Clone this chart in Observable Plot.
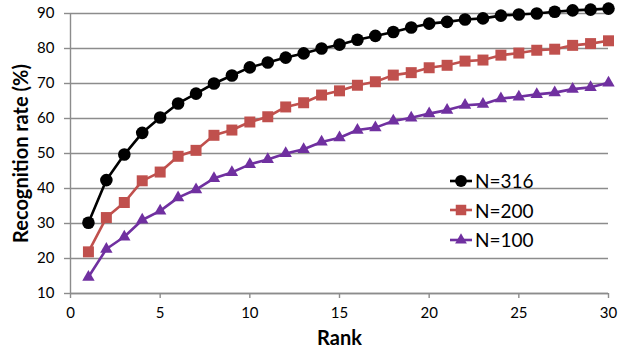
<!DOCTYPE html>
<html>
<head>
<meta charset="utf-8">
<script src="https://cdn.jsdelivr.net/npm/d3@7"></script>
<script src="https://cdn.jsdelivr.net/npm/@observablehq/plot@0.6"></script>
<style>
  html, body { margin: 0; padding: 0; background: #fff; }
  #wrap { position: relative; width: 619px; height: 352px; font-family: Lato, "Open Sans", sans-serif; }
  #legend { position: absolute; left: 449px; top: 166px; font-size: 19px; line-height: 29.5px; color: #000; }
  #legend div { display: flex; align-items: center; height: 29.5px; }
  #legend svg { margin-right: 2px; }
</style>
</head>
<body>
<div id="wrap"></div>
<script>
const ranks = [1,2,3,4,5,6,7,8,9,10,11,12,13,14,15,16,17,18,19,20,21,22,23,24,25,26,27,28,29,30];
const n316 = [30.2,42.4,49.7,55.9,60.3,64.3,67.1,70.0,72.3,74.6,76.0,77.4,78.6,80.0,81.1,82.5,83.6,84.7,86.0,87.1,87.6,88.3,88.6,89.4,89.7,90.0,90.5,90.9,91.1,91.4];
const n200 = [21.9,31.7,36.0,42.2,44.7,49.2,50.9,55.2,56.7,59.0,60.5,63.3,64.5,66.7,67.9,69.5,70.5,72.4,73.1,74.5,75.2,76.4,76.7,78.1,78.7,79.5,79.8,80.9,81.4,82.2];
const n100 = [14.7,22.7,26.2,31.0,33.6,37.4,39.7,42.9,44.6,46.9,48.3,50.0,51.2,53.3,54.5,56.7,57.4,59.3,60.2,61.4,62.4,63.8,64.1,65.7,66.2,66.9,67.4,68.4,68.9,70.2];
const seriesNames = ["N=316", "N=200", "N=100"];
const seriesColors = ["#000000", "#C0504D", "#7030A0"];
const seriesSymbols = ["circle", "square", "triangle"];
const xTicks = [0,5,10,15,20,25,30];
const yTicks = [10,20,30,40,50,60,70,80,90];

const values = [n316, n200, n100];
const data = [];
seriesNames.forEach((s, i) => ranks.forEach((r, j) => data.push({series: s, rank: r, rate: values[i][j]})));

const gridColor = "#8c8c8c";
const marks = [
  Plot.gridY(yTicks, {stroke: gridColor, strokeOpacity: 1, strokeWidth: 1.4}),
  Plot.ruleX([0], {stroke: gridColor, strokeWidth: 1.4}),
  Plot.ruleY([10], {stroke: gridColor, strokeWidth: 1.4}),
  Plot.axisY(yTicks, {tickSize: 6, tickPadding: 10, stroke: gridColor, strokeWidth: 1.4, fontSize: 15, color: "#000", label: null}),
  Plot.axisX(xTicks, {tickSize: 5, tickPadding: 9, stroke: gridColor, strokeWidth: 1.4, fontSize: 15, color: "#000", label: null}),
  Plot.text(["Rank"], {frameAnchor: "bottom", dy: 51, fontSize: 20, fontWeight: "bold", fill: "#000"}),
  Plot.text(["Recognition rate (%)"], {frameAnchor: "left", textAnchor: "middle", dx: -49, rotate: -90, fontSize: 20, fontWeight: "bold", fill: "#000"})
];
seriesNames.forEach((s, i) => {
  const d = data.filter(e => e.series === s);
  marks.push(Plot.line(d, {x: "rank", y: "rate", stroke: seriesColors[i], strokeWidth: 2.6}));
  marks.push(Plot.dot(d, {x: "rank", y: "rate", fill: seriesColors[i], stroke: null, symbol: seriesSymbols[i], r: i === 0 ? 6.3 : i === 1 ? 6.2 : 4.6}));
});

const chart = Plot.plot({
  width: 619,
  height: 352,
  marginLeft: 70,
  marginRight: 11,
  marginTop: 13,
  marginBottom: 59,
  style: {fontFamily: "Lato, 'Open Sans', sans-serif", background: "#fff"},
  x: {domain: [0, 30]},
  y: {domain: [10, 90]},
  marks
});
const wrap = document.getElementById("wrap");
wrap.appendChild(chart);

// legend
const legend = document.createElement("div");
legend.id = "legend";
seriesNames.forEach((s, i) => {
  const row = document.createElement("div");
  const sym = d3.symbol(i === 0 ? d3.symbolCircle : i === 1 ? d3.symbolSquare : d3.symbolTriangle, i === 0 ? 110 : i === 1 ? 110 : 60)();
  row.innerHTML = `<svg width="24" height="16" viewBox="-12 -8 24 16"><line x1="-11" x2="11" y1="0" y2="0" stroke="${seriesColors[i]}" stroke-width="2.6"/><path d="${sym}" fill="${seriesColors[i]}"/></svg><span>${s}</span>`;
  legend.appendChild(row);
});
wrap.appendChild(legend);
</script>
</body>
</html>
